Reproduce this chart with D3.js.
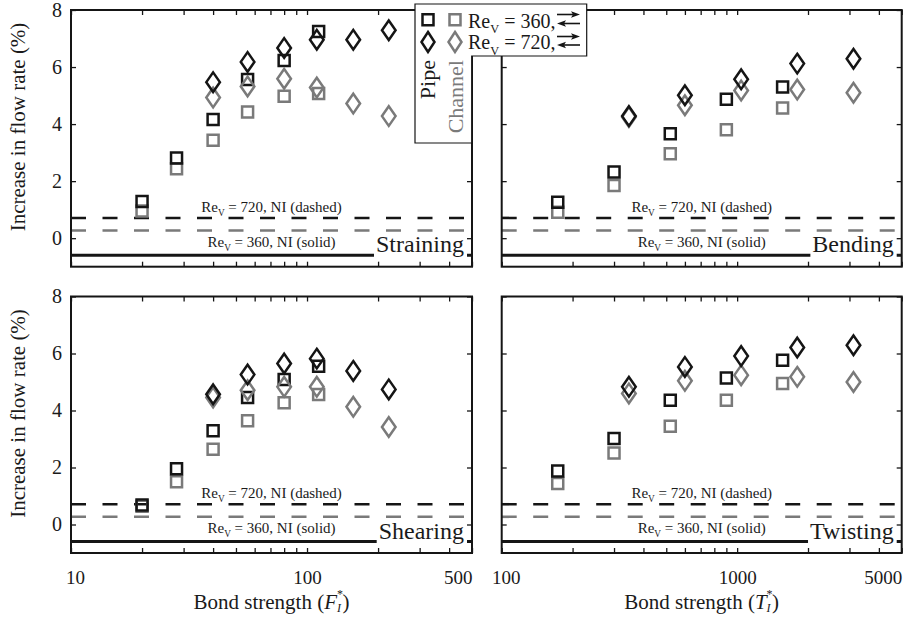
<!DOCTYPE html>
<html><head><meta charset="utf-8">
<script src="https://cdn.jsdelivr.net/npm/d3@7"></script>
<style>
body{margin:0;background:#fff}
text{font-family:"Liberation Serif","DejaVu Serif",serif;fill:#1a1a1a}
</style>
</head><body><svg id="c" width="908" height="617"></svg>
<script>
// ---------------- data ----------------
const forceX360 = [20, 28, 40, 56, 80, 112];
const forceX720 = [40, 56, 80, 110, 157, 222];
const torqueX360 = [173, 300, 520, 900, 1560];
const torqueX720 = [347, 600, 1040, 1800, 3120];

const strainPipe360 = [1.29, 2.81, 4.16, 5.56, 6.23, 7.25];
const strainChan360 = [0.95, 2.43, 3.43, 4.42, 4.98, 5.07];
const strainPipe720 = [5.47, 6.18, 6.67, 6.96, 6.96, 7.29];
const strainChan720 = [4.93, 5.32, 5.59, 5.28, 4.72, 4.28];

const bendPipe360 = [1.26, 2.32, 3.66, 4.87, 5.30];
const bendChan360 = [0.91, 1.85, 2.96, 3.80, 4.56];
const bendPipe720 = [4.28, 5.01, 5.57, 6.12, 6.29];
const bendChan720 = [4.25, 4.66, 5.18, 5.21, 5.10];

const shearPipe360 = [0.68, 1.96, 3.29, 4.46, 5.09, 5.55];
const shearChan360 = [0.64, 1.50, 2.64, 3.64, 4.27, 4.56];
const shearPipe720 = [4.57, 5.26, 5.65, 5.82, 5.39, 4.74];
const shearChan720 = [4.46, 4.71, 4.83, 4.83, 4.13, 3.42];

const twistPipe360 = [1.88, 3.02, 4.36, 5.14, 5.76];
const twistChan360 = [1.44, 2.51, 3.45, 4.36, 4.95];
const twistPipe720 = [4.83, 5.53, 5.91, 6.21, 6.29];
const twistChan720 = [4.60, 5.04, 5.24, 5.18, 5.00];

// no-interaction reference levels
const niPipe720 = 0.71;   // black dashed
const niChan720 = 0.27;   // grey dashed
const ni360 = -0.6;       // black solid

const yTicks = [0, 2, 4, 6, 8];
const forceTicks = [10, 20, 30, 40, 50, 60, 70, 80, 90, 100, 200, 300, 400, 500];
const forceLabels = [10, 100, 500];
const torqueTicks = [100, 200, 300, 400, 500, 600, 700, 800, 900, 1000, 2000, 3000, 4000, 5000];
const torqueLabels = [100, 1000, 5000];
const panelNames = ["Straining", "Bending", "Shearing", "Twisting"];

// ---------------- drawing ----------------
const BLACK = "#151515", GREY = "#7a7a7a";
const svg = d3.select("#c");

const xForce = d3.scaleLog().domain([10, 500]).range([71, 472]);
const xTorque = d3.scaleLog().domain([100, 5000]).range([501.7, 901.7]);
const yTop = d3.scaleLinear().domain([-1, 8]).range([266.7, 10]);
const yBot = d3.scaleLinear().domain([-1, 8]).range([553, 296.5]);

const sqPath = s => `M${-s/2},${-s/2}H${s/2}V${s/2}H${-s/2}Z`;
const diaPath = (hw, hh) => `M0,${-hh}L${hw},0L0,${hh}L${-hw},0Z`;
const SQ = sqPath(11), DIA = diaPath(6.8, 9.8);

const panels = [
  {name: panelNames[0], x: xForce, y: yTop, xs: forceX360, xd: forceX720,
   p360: strainPipe360, c360: strainChan360, p720: strainPipe720, c720: strainChan720,
   ticks: forceTicks, labels: forceLabels, showX: false, showY: true},
  {name: panelNames[1], x: xTorque, y: yTop, xs: torqueX360, xd: torqueX720,
   p360: bendPipe360, c360: bendChan360, p720: bendPipe720, c720: bendChan720,
   ticks: torqueTicks, labels: torqueLabels, showX: false, showY: false},
  {name: panelNames[2], x: xForce, y: yBot, xs: forceX360, xd: forceX720,
   p360: shearPipe360, c360: shearChan360, p720: shearPipe720, c720: shearChan720,
   ticks: forceTicks, labels: forceLabels, showX: true, showY: true},
  {name: panelNames[3], x: xTorque, y: yBot, xs: torqueX360, xd: torqueX720,
   p360: twistPipe360, c360: twistChan360, p720: twistPipe720, c720: twistChan720,
   ticks: torqueTicks, labels: torqueLabels, showX: true, showY: false}
];

function reText(sel, rest, fs) {
  sel.append("tspan").text("Re");
  sel.append("tspan").attr("font-size", fs * 0.62).attr("dy", fs * 0.28).text("V");
  sel.append("tspan").attr("dy", -fs * 0.28).text(rest);
}

panels.forEach(p => {
  const g = svg.append("g");
  const [x0, x1] = p.x.range();
  const [y1, y0] = p.y.range();
  const cx = (x0 + x1) / 2;

  // NI lines
  g.append("line").attr("x1", x0).attr("x2", x1).attr("y1", p.y(niChan720)).attr("y2", p.y(niChan720))
    .attr("stroke", GREY).attr("stroke-width", 2.6).attr("stroke-dasharray", "15,16.5");
  g.append("line").attr("x1", x0).attr("x2", x1).attr("y1", p.y(niPipe720)).attr("y2", p.y(niPipe720))
    .attr("stroke", BLACK).attr("stroke-width", 2.6).attr("stroke-dasharray", "15,16.5");
  g.append("line").attr("x1", x0).attr("x2", x1).attr("y1", p.y(ni360)).attr("y2", p.y(ni360))
    .attr("stroke", BLACK).attr("stroke-width", 3);

  // annotations
  const a1 = g.append("text").attr("x", cx).attr("y", p.y(niPipe720) - 6)
    .attr("text-anchor", "middle").attr("font-size", 15);
  reText(a1, " = 720, NI (dashed)", 15);
  const a2 = g.append("text").attr("x", cx).attr("y", p.y(ni360) - 8.5)
    .attr("text-anchor", "middle").attr("font-size", 15);
  reText(a2, " = 360, NI (solid)", 15);

  // panel label with white box
  const lab = g.append("text").attr("x", x1 - 8).attr("y", p.y(ni360) - 3)
    .attr("text-anchor", "end").attr("font-size", 24).text(p.name);
  const bb = lab.node().getBBox();
  g.insert("rect", "text:last-of-type")
    .attr("x", bb.x - 2).attr("y", bb.y + 4).attr("width", bb.width + 5).attr("height", bb.height - 2)
    .attr("fill", "#fff");
  lab.raise();

  // markers
  const draw = (xs, vs, path, col) => {
    g.selectAll(null).data(vs).enter().append("path")
      .attr("d", path)
      .attr("transform", (v, i) => `translate(${p.x(xs[i])},${p.y(v)})`)
      .attr("fill", "none").attr("stroke", col).attr("stroke-width", 2.5);
  };
  draw(p.xs, p.c360, SQ, GREY);
  draw(p.xs, p.p360, SQ, BLACK);
  draw(p.xd, p.c720, DIA, GREY);
  draw(p.xd, p.p720, DIA, BLACK);

  // axes (inward ticks)
  const fmtX = d => p.labels.includes(d) ? String(d) : "";
  const ab = d3.axisBottom(p.x).tickValues(p.ticks).tickSize(-5).tickPadding(18)
    .tickFormat(p.showX ? fmtX : () => "");
  const gb = g.append("g").attr("transform", `translate(0,${y1})`).call(ab);
  const at = d3.axisTop(p.x).tickValues(p.ticks).tickSize(-5).tickFormat(() => "");
  const gt = g.append("g").attr("transform", `translate(0,${y0})`).call(at);
  const al = d3.axisLeft(p.y).tickValues(yTicks).tickSize(-5).tickPadding(9)
    .tickFormat(p.showY ? d3.format("d") : () => "");
  const gl = g.append("g").attr("transform", `translate(${x0},0)`).call(al);
  const ar = d3.axisRight(p.y).tickValues(yTicks).tickSize(-5).tickFormat(() => "");
  const gr = g.append("g").attr("transform", `translate(${x1},0)`).call(ar);
  [gb, gt, gl, gr].forEach(s => {
    s.select(".domain").remove();
    s.selectAll(".tick line").attr("stroke", BLACK).attr("stroke-width", 1.3);
    s.selectAll("text").attr("font-size", 20).attr("font-family", "Liberation Serif, DejaVu Serif, serif").attr("fill", BLACK);
  });
  if (p.showX) {
    gb.selectAll("text").attr("font-size", 19);
    const d0 = p.labels[0], d2 = p.labels[p.labels.length - 1];
    gb.selectAll(".tick text").filter(d => d === d0).attr("dx", 4);
    gb.selectAll(".tick text").filter(d => d === d2).attr("text-anchor", "end");
  }

  // frame
  g.append("rect").attr("x", x0).attr("y", y0).attr("width", x1 - x0).attr("height", y1 - y0)
    .attr("fill", "none").attr("stroke", BLACK).attr("stroke-width", 2);

  // axis titles
  if (p.showY) {
    svg.append("text").attr("transform", `translate(25,${y0 + 117}) rotate(-90)`)
      .attr("text-anchor", "middle").attr("font-size", 21).text("Increase in flow rate (%)");
  }
  if (p.showX) {
    const t = svg.append("text").attr("x", cx).attr("y", 609).attr("text-anchor", "middle").attr("font-size", 21);
    t.append("tspan").text("Bond strength (");
    t.append("tspan").attr("font-style", "italic").text(p.x === xForce ? "F" : "T");
    t.append("tspan").attr("font-size", 12).attr("dy", -11).text("*");
    t.append("tspan").attr("font-size", 12).attr("font-style", "italic").attr("dx", -6).attr("dy", 14).text("I");
    t.append("tspan").attr("dx", 1.5).attr("dy", -3).text(")");
  }
});

// ---------------- legend ----------------
const lg = svg.append("g");
lg.append("path")
  .attr("d", "M415,4H586.7V56H471.7V143H415Z")
  .attr("fill", "#fff").attr("stroke", BLACK).attr("stroke-width", 1.2);
lg.append("path").attr("d", SQ).attr("transform", "translate(428,19.7)")
  .attr("fill", "none").attr("stroke", BLACK).attr("stroke-width", 2.5);
lg.append("path").attr("d", SQ).attr("transform", "translate(455,19.7)")
  .attr("fill", "none").attr("stroke", GREY).attr("stroke-width", 2.5);
lg.append("path").attr("d", diaPath(6.5, 10)).attr("transform", "translate(428,42)")
  .attr("fill", "none").attr("stroke", BLACK).attr("stroke-width", 2.5);
lg.append("path").attr("d", diaPath(6.5, 10)).attr("transform", "translate(455,42)")
  .attr("fill", "none").attr("stroke", GREY).attr("stroke-width", 2.5);
const l1 = lg.append("text").attr("x", 468).attr("y", 27.5).attr("font-size", 20);
reText(l1, " = 360,", 20);
const l2 = lg.append("text").attr("x", 468).attr("y", 49).attr("font-size", 20);
reText(l2, " = 720,", 20);

function arrow(xa, xb, yy) {
  const dir = xb > xa ? 1 : -1;
  lg.append("line").attr("x1", xa).attr("x2", xb - dir * 4).attr("y1", yy).attr("y2", yy)
    .attr("stroke", BLACK).attr("stroke-width", 1.6);
  lg.append("path").attr("d", `M${xb},${yy}L${xb - dir * 9},${yy - 3.2}L${xb - dir * 7},${yy}L${xb - dir * 9},${yy + 3.2}Z`)
    .attr("fill", BLACK);
}
arrow(557, 580, 14.5); arrow(580, 557, 23.5);
arrow(557, 580, 36.5); arrow(580, 557, 45);

lg.append("text").attr("transform", "translate(435,60) rotate(-90)").attr("text-anchor", "end")
  .attr("font-size", 22).text("Pipe");
lg.append("text").attr("transform", "translate(463,60) rotate(-90)").attr("text-anchor", "end")
  .attr("font-size", 22).style("fill", GREY).text("Channel");
</script></body></html>
